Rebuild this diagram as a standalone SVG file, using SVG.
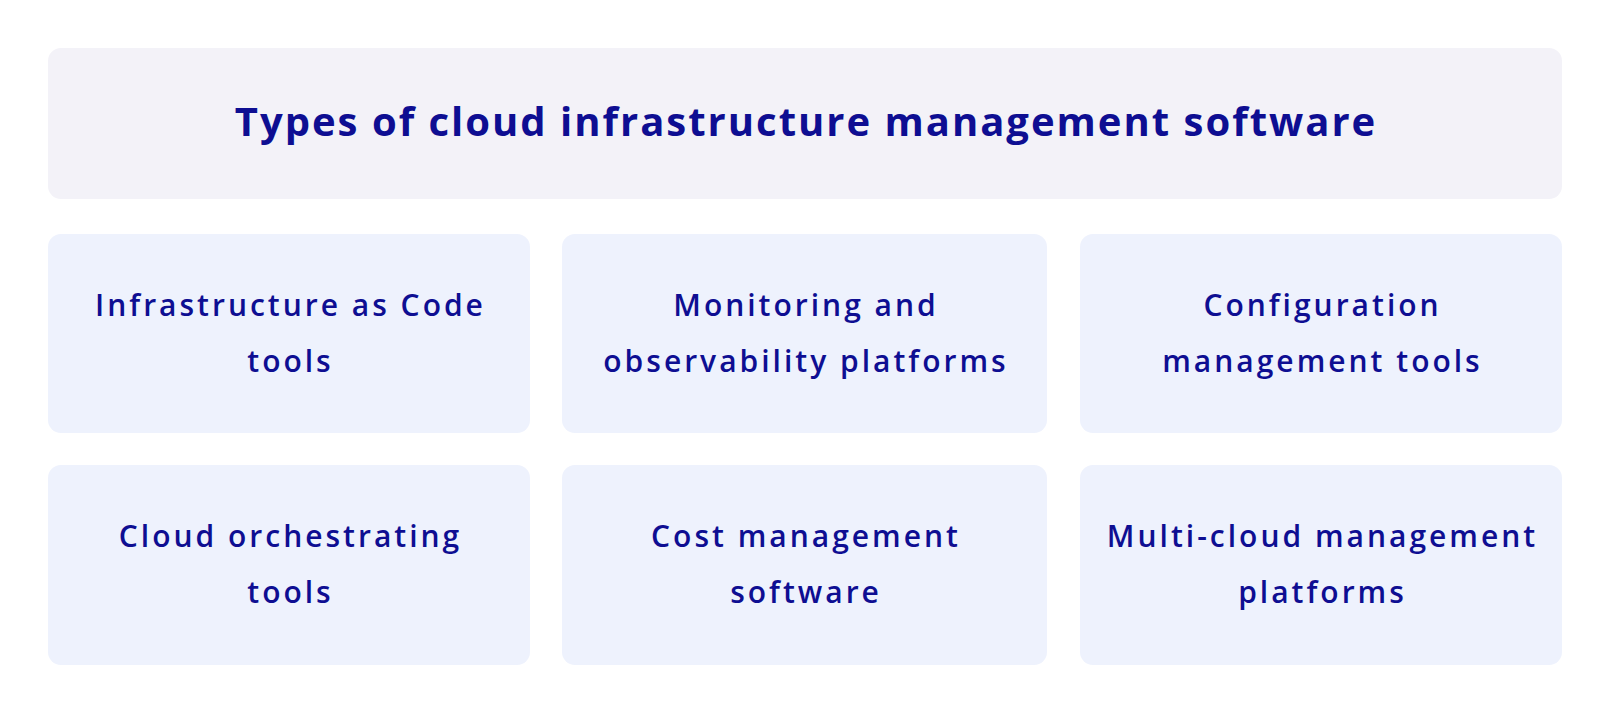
<svg xmlns="http://www.w3.org/2000/svg" width="1610" height="718" viewBox="0 0 1610 718">
<style>
.title-bg{fill:#F3F2F8}
.box{fill:#EEF2FD}
.t{font-family:"Open Sans","Liberation Sans",sans-serif;fill:#0E0E92;text-anchor:middle}
.h{font-size:40px;font-weight:700;letter-spacing:2px}
.l{font-size:30px;font-weight:600;letter-spacing:3px}
</style>
<rect width="1610" height="718" fill="#FFFFFF"/>
<g id="title">
<rect class="title-bg" x="48" y="48" width="1514" height="151" rx="13"/>
<text class="t h" x="806" y="136">Types of cloud infrastructure management software</text>
</g>
<g id="node-iac">
<rect class="box" x="48" y="234" width="482" height="199" rx="13"/>
<text class="t l" x="290.5" y="316">Infrastructure as Code</text>
<text class="t l" x="290.5" y="372">tools</text>
</g>
<g id="node-monitoring">
<rect class="box" x="562" y="234" width="485" height="199" rx="13"/>
<text class="t l" x="806" y="316">Monitoring and</text>
<text class="t l" x="806" y="372">observability platforms</text>
</g>
<g id="node-config">
<rect class="box" x="1080" y="234" width="482" height="199" rx="13"/>
<text class="t l" x="1322.5" y="316">Configuration</text>
<text class="t l" x="1322.5" y="372">management tools</text>
</g>
<g id="node-orchestration">
<rect class="box" x="48" y="465" width="482" height="200" rx="13"/>
<text class="t l" x="290.5" y="547">Cloud orchestrating</text>
<text class="t l" x="290.5" y="603">tools</text>
</g>
<g id="node-cost">
<rect class="box" x="562" y="465" width="485" height="200" rx="13"/>
<text class="t l" x="806" y="547">Cost management</text>
<text class="t l" x="806" y="603">software</text>
</g>
<g id="node-multicloud">
<rect class="box" x="1080" y="465" width="482" height="200" rx="13"/>
<text class="t l" x="1322.5" y="547">Multi-cloud management</text>
<text class="t l" x="1322.5" y="603">platforms</text>
</g>
<g id="connectors"></g>
</svg>
